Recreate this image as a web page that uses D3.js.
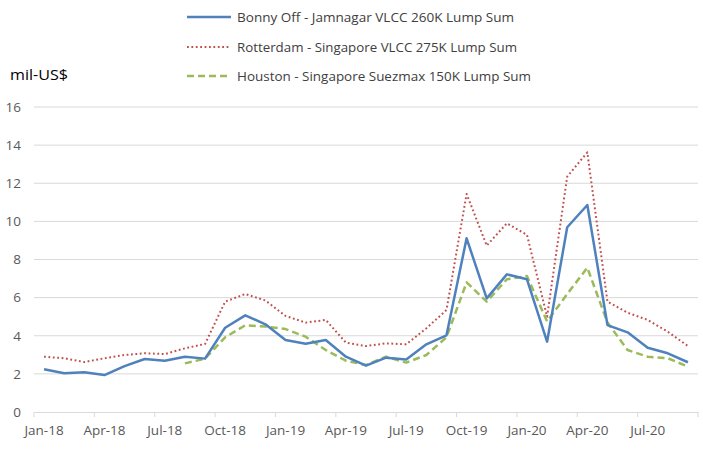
<!DOCTYPE html>
<html><head><meta charset="utf-8">
<script src="https://cdn.jsdelivr.net/npm/d3@7"></script>
<style>
body{margin:0;background:#fff;}
svg{display:block;}
text{font-family:"Open Sans",Arial,sans-serif;}
</style></head>
<body><svg id="c" width="703" height="450"></svg>
<script>
const months = ["Jan-18","Feb-18","Mar-18","Apr-18","May-18","Jun-18","Jul-18","Aug-18","Sep-18","Oct-18","Nov-18","Dec-18",
"Jan-19","Feb-19","Mar-19","Apr-19","May-19","Jun-19","Jul-19","Aug-19","Sep-19","Oct-19","Nov-19","Dec-19",
"Jan-20","Feb-20","Mar-20","Apr-20","May-20","Jun-20","Jul-20","Aug-20","Sep-20"];
const bonny = [2.24,2.03,2.08,1.94,2.41,2.78,2.69,2.90,2.80,4.42,5.07,4.60,3.78,3.58,3.78,2.90,2.43,2.85,2.76,3.55,4.02,9.11,5.96,7.22,6.96,3.69,9.69,10.86,4.56,4.18,3.37,3.08,2.61];
const rotterdam = [2.90,2.82,2.62,2.82,2.99,3.08,3.04,3.34,3.57,5.79,6.19,5.85,5.04,4.69,4.83,3.64,3.46,3.60,3.55,4.39,5.35,11.44,8.73,9.90,9.29,5.00,12.35,13.62,5.79,5.21,4.83,4.21,3.46];
const houston = [null,null,null,null,null,null,null,2.55,2.80,3.92,4.55,4.48,4.35,3.95,3.25,2.69,2.47,2.90,2.59,2.99,3.92,6.80,5.79,6.96,7.13,4.75,6.19,7.57,4.69,3.25,2.90,2.82,2.38];
const seriesNames = ["Bonny Off - Jamnagar VLCC 260K Lump Sum","Rotterdam - Singapore VLCC 275K Lump Sum","Houston - Singapore Suezmax 150K Lump Sum"];
const yTicks = [0,2,4,6,8,10,12,14,16];
const xLabels = months.filter((m,i)=>i%3===0);

const svg = d3.select("#c");
const x = d3.scaleBand().domain(months).range([34,698]).padding(0);
const y = d3.scaleLinear().domain([0,16]).range([412,107]);
const cx = m => x(m) + x.bandwidth()/2;

// gridlines
svg.append("g").selectAll("line").data(yTicks.filter(t=>t>0)).join("line")
  .attr("x1",34).attr("x2",698).attr("y1",d=>y(d)).attr("y2",d=>y(d))
  .attr("stroke","#d9d9d9").attr("stroke-width",1);

// y axis labels
const ya = svg.append("g").attr("transform","translate(34,0)")
  .call(d3.axisLeft(y).tickValues(yTicks).tickSize(0).tickPadding(13));
ya.select(".domain").remove();
ya.selectAll("text").attr("fill","#595959").style("font-size","13.5px");

// x axis
const xa = svg.append("g").attr("transform","translate(0,412)")
  .call(d3.axisBottom(x).tickValues(xLabels).tickSize(0).tickPadding(13));
xa.select(".domain").attr("stroke","#d9d9d9");
xa.selectAll("text").attr("fill","#595959").style("font-size","13.5px");
const tickPos = months.filter((m,i)=>i%3===0).map(m=>x(m)).concat([x.range()[1]]);
xa.append("g").selectAll("line").data(tickPos).join("line")
  .attr("x1",d=>d).attr("x2",d=>d).attr("y1",0).attr("y2",5)
  .attr("stroke","#d9d9d9");

const styles = [
  {c:"#4f81bd", w:2.5, dash:null},
  {c:"#c0504d", w:2, dash:"1.8,2.6"},
  {c:"#9bbb59", w:2.5, dash:"7,4"}
];
const data = [bonny, rotterdam, houston];
const line = d3.line().defined(d=>d.v!=null).x(d=>cx(d.m)).y(d=>y(d.v));
[1,2,0].forEach(k=>{
  svg.append("path").datum(months.map((m,i)=>({m:m,v:data[k][i]})))
    .attr("d",line).attr("fill","none").attr("stroke",styles[k].c)
    .attr("stroke-width",styles[k].w).attr("stroke-dasharray",styles[k].dash)
    .attr("stroke-linejoin","round");
});

// legend
const lg = svg.append("g");
const rowsY = [17,47,76];
const legW = [277,280,294];
seriesNames.forEach((n,k)=>{
  lg.append("line").attr("x1",187).attr("x2",231).attr("y1",rowsY[k]).attr("y2",rowsY[k])
    .attr("stroke",styles[k].c).attr("stroke-width",styles[k].w).attr("stroke-dasharray",styles[k].dash);
  lg.append("text").attr("x",237).attr("y",rowsY[k]).attr("dy","0.35em")
    .attr("fill","#404040").style("font-size","13.5px")
    .attr("textLength",legW[k]).attr("lengthAdjust","spacingAndGlyphs").text(n);
});

// unit label
svg.append("text").attr("x",10).attr("y",75).attr("dy","0.35em")
  .attr("fill","#000").style("font-size","15px")
  .attr("textLength",58).attr("lengthAdjust","spacingAndGlyphs").text("mil-US$");
</script></body></html>
